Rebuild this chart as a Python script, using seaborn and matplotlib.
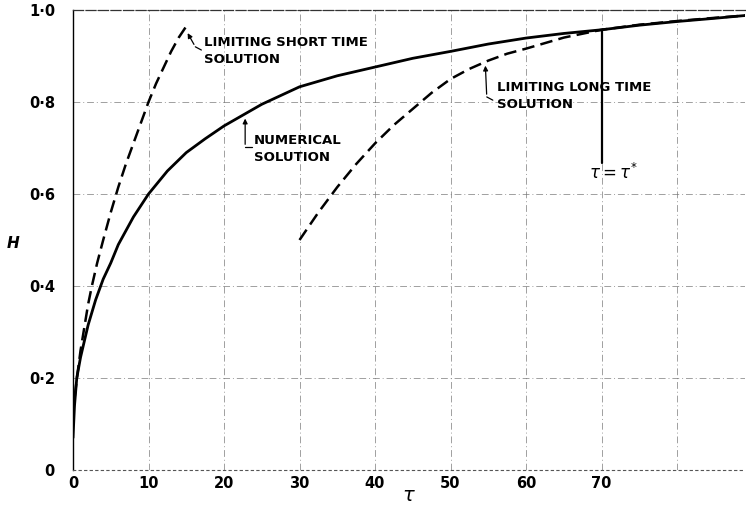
import matplotlib
matplotlib.use("Agg")
import matplotlib.pyplot as plt
import seaborn as sns

# values
num_tau = [0, 0.2, 0.5, 1, 1.5, 2, 3, 4, 5, 6, 7, 8, 9, 10, 12.5, 15, 17.5, 20,
           25, 30, 35, 40, 45, 50, 55, 60, 65, 70, 75, 80, 85, 89]
num_h = [0.07, 0.14, 0.20, 0.245, 0.28, 0.315, 0.37, 0.415, 0.45, 0.49, 0.52, 0.55,
         0.575, 0.60, 0.65, 0.69, 0.72, 0.748, 0.795, 0.833, 0.857, 0.876, 0.895,
         0.91, 0.926, 0.939, 0.949, 0.957, 0.967, 0.975, 0.982, 0.988]

short_tau = [0, 0.3, 0.6, 1, 1.5, 2, 2.5, 3.2, 4, 5, 6, 7, 8, 9, 10, 11, 12, 13, 14, 15.1]
short_h = [0.12, 0.17, 0.21, 0.26, 0.31, 0.36, 0.40, 0.45, 0.50, 0.56, 0.615, 0.665,
           0.71, 0.755, 0.80, 0.84, 0.875, 0.91, 0.94, 0.967]

long_tau = [30, 32.5, 35, 37.5, 40, 42.5, 45, 47.5, 50, 52.5, 55, 57.5, 60, 65, 70,
            75, 80, 85, 89]
long_h = [0.50, 0.56, 0.615, 0.665, 0.71, 0.75, 0.785, 0.82, 0.85, 0.872, 0.89,
          0.905, 0.916, 0.94, 0.957, 0.968, 0.976, 0.983, 0.988]

x_ticks = [0, 10, 20, 30, 40, 50, 60, 70, 80]
x_labels = ["0", "10", "20", "30", "40", "50", "60", "70", ""]
y_ticks = [0, 0.2, 0.4, 0.6, 0.8, 1.0]
y_labels = ["0", "0·2", "0·4", "0·6", "0·8", "1·0"]

tau_star = 70

sns.set_theme(style="white")
plt.rcParams["font.family"] = ["DejaVu Sans"]
plt.rcParams["mathtext.fontset"] = "dejavusans"
plt.rcParams["text.color"] = "black"
plt.rcParams["axes.labelcolor"] = "black"

fig = plt.figure(figsize=(7.46, 5.08), dpi=100)
ax = fig.add_axes([73 / 746, 38 / 508, 672 / 746, 460 / 508])

sns.lineplot(x=num_tau, y=num_h, ax=ax, color="black", lw=2.0,
             sort=False, estimator=None)
sns.lineplot(x=short_tau, y=short_h, ax=ax, color="black", lw=1.8,
             linestyle=(0, (5, 2.5)), sort=False, estimator=None)
sns.lineplot(x=long_tau, y=long_h, ax=ax, color="black", lw=1.8,
             linestyle=(0, (5, 2.5)), sort=False, estimator=None)

ax.set_xlim(0, 89)
ax.set_ylim(0, 1.0)
ax.set_xticks(x_ticks)
ax.set_xticklabels(x_labels)
ax.set_yticks(y_ticks)
ax.set_yticklabels(y_labels)
ax.tick_params(axis="both", length=0, labelsize=10.5, colors="black")
ax.tick_params(axis="y", pad=13)
ax.tick_params(axis="x", pad=4)
for lab in ax.get_xticklabels() + ax.get_yticklabels():
    lab.set_fontweight("bold")

ax.grid(True, color="#777777", linestyle=(0, (7, 3, 1, 3)), lw=0.7, alpha=0.7)
ax.spines["right"].set_visible(False)
ax.spines["left"].set_color("black")
ax.spines["left"].set_linewidth(1.0)
ax.spines["top"].set_color("#333333")
ax.spines["top"].set_linestyle((0, (8, 2)))
ax.spines["top"].set_linewidth(0.9)
ax.spines["bottom"].set_color("#555555")
ax.spines["bottom"].set_linestyle((0, (2, 3)))
ax.spines["bottom"].set_linewidth(0.8)

ax.set_ylabel("H", rotation=0, style="italic", fontweight="bold", fontsize=11)
ax.yaxis.set_label_coords(-0.089, 0.475)
ax.set_xlabel(r"$\tau$", fontsize=14)
ax.xaxis.set_label_coords(0.5, -0.035)

# tau = tau* marker
ax.plot([tau_star, tau_star], [0.667, 0.957], color="black", lw=1.6)
ax.text(71.5, 0.645, r"$\tau = \tau^{*}$", fontsize=12, ha="center", va="center")

txt = dict(fontsize=9.5, fontweight="bold", ha="left", va="center", linespacing=1.4)
leader = dict(color="black", lw=0.9)

# short time label
ax.text(17.4, 0.911, "LIMITING SHORT TIME\nSOLUTION", **txt)
ax.plot([16.2, 17.0], [0.92, 0.913], **leader)
ax.annotate("", xy=(15.0, 0.955), xytext=(16.2, 0.92),
            arrowprops=dict(arrowstyle="-|>", color="black", lw=0.9, mutation_scale=7))

# numerical label
ax.text(24.0, 0.697, "NUMERICAL\nSOLUTION", **txt)
ax.plot([22.8, 23.7], [0.702, 0.702], **leader)
ax.annotate("", xy=(22.8, 0.77), xytext=(22.8, 0.702),
            arrowprops=dict(arrowstyle="-|>", color="black", lw=0.9, mutation_scale=7))

# long time label
ax.text(56.1, 0.814, "LIMITING LONG TIME\nSOLUTION", **txt)
ax.plot([54.8, 55.6], [0.811, 0.804], **leader)
ax.annotate("", xy=(54.6, 0.885), xytext=(54.8, 0.811),
            arrowprops=dict(arrowstyle="-|>", color="black", lw=0.9, mutation_scale=7))

fig.savefig("out.png", dpi=100, facecolor="white")
